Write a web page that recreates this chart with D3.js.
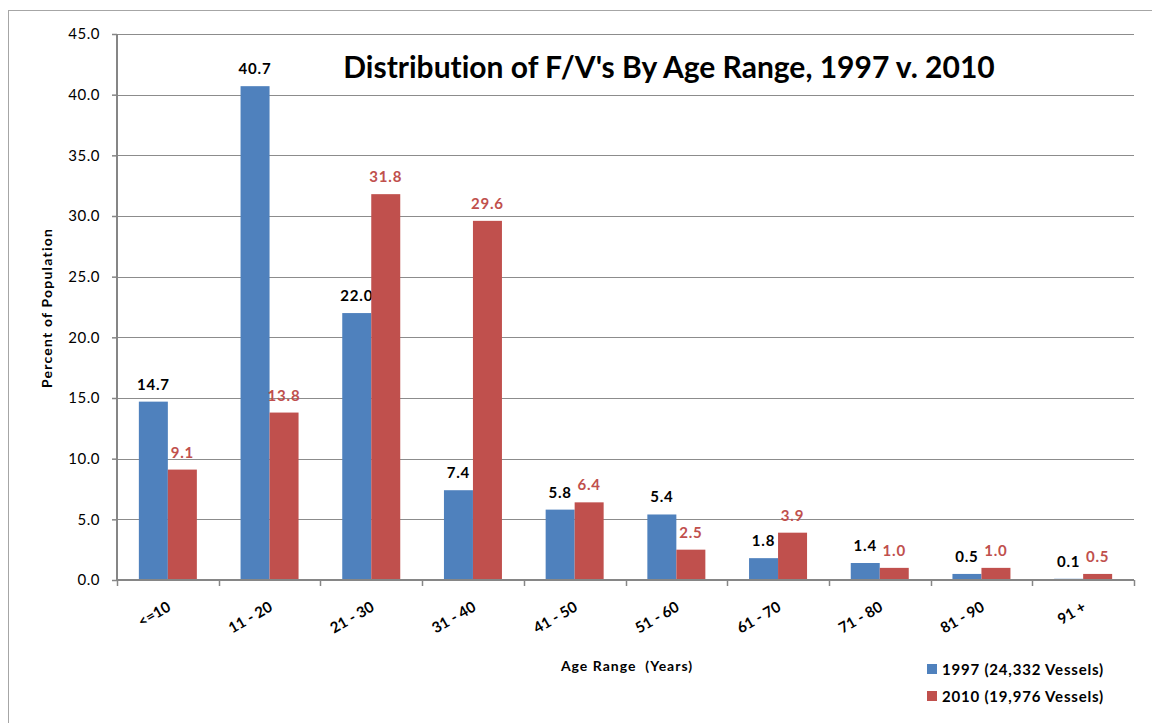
<!doctype html>
<html>
<head>
<meta charset="utf-8">
<script src="https://d3js.org/d3.v7.min.js"></script>
<style>
body { margin: 0; background: #fff; }
svg { font-family: Lato, "Open Sans", sans-serif; font-variant-ligatures: none; }
</style>
</head>
<body>
<svg width="1152" height="723"></svg>
<script>
// chart data
var categories = ["<=10", "11 - 20", "21 - 30", "31 - 40", "41 - 50", "51 - 60", "61 - 70", "71 - 80", "81 - 90", "91 +"];
var values1997 = [14.7, 40.7, 22.0, 7.4, 5.8, 5.4, 1.8, 1.4, 0.5, 0.1];
var values2010 = [9.1, 13.8, 31.8, 29.6, 6.4, 2.5, 3.9, 1.0, 1.0, 0.5];
var seriesNames = ["1997 (24,332 Vessels)", "2010 (19,976 Vessels)"];
var yTicks = [0, 5, 10, 15, 20, 25, 30, 35, 40, 45];

var colors = ["#4F81BD", "#C0504D"];
var labelColors = ["#000000", "#C0504D"];

var svg = d3.select("svg");

// outer chart frame
svg.append("rect")
    .attr("x", 8.5).attr("y", 10.5)
    .attr("width", 1160).attr("height", 730)
    .attr("fill", "none").attr("stroke", "#a6a6a6");

var plotLeft = 117, plotRight = 1134, plotTop = 34, plotBottom = 580;

var x = d3.scaleBand().domain(categories).range([plotLeft, plotRight]);
var y = d3.scaleLinear().domain([0, 45]).range([plotBottom, plotTop]);
var sub = d3.scaleBand().domain([0, 1]).range([0, 58]);
var groupOffset = (x.bandwidth() - 58) / 2;

// gridlines
svg.append("g").selectAll("line")
    .data(yTicks.filter(function(d) { return d > 0; }))
    .enter().append("line")
    .attr("x1", plotLeft).attr("x2", plotRight)
    .attr("y1", function(d) { return Math.round(y(d)) + 0.5; })
    .attr("y2", function(d) { return Math.round(y(d)) + 0.5; })
    .attr("stroke", "#8c8c8c").attr("stroke-width", 1);

// y axis
var yAxis = svg.append("g")
    .attr("transform", "translate(" + plotLeft + ",0)")
    .call(d3.axisLeft(y).tickValues(yTicks).tickSize(5).tickPadding(12).tickFormat(d3.format(".1f")));
yAxis.select(".domain").attr("stroke", "#868686").attr("stroke-width", 2).attr("d", "M0," + plotTop + "V" + plotBottom);
yAxis.selectAll(".tick line").attr("stroke", "#868686").attr("stroke-width", 1.5);
yAxis.selectAll(".tick text").attr("font-size", 15).attr("fill", "#000")
    .attr("font-family", "Lato, sans-serif").attr("letter-spacing", 0.5);

// bars
var series = [values1997, values2010];
series.forEach(function(vals, s) {
    var g = svg.append("g");
    g.selectAll("rect")
        .data(vals)
        .enter().append("rect")
        .attr("x", function(d, i) { return x(categories[i]) + groupOffset + sub(s); })
        .attr("y", function(d) { return y(d); })
        .attr("width", sub.bandwidth())
        .attr("height", function(d) { return plotBottom - y(d); })
        .attr("fill", colors[s]);
    g.selectAll("text")
        .data(vals)
        .enter().append("text")
        .attr("x", function(d, i) { return x(categories[i]) + groupOffset + sub(s) + sub.bandwidth() / 2; })
        .attr("y", function(d) { return y(d) - 12; })
        .attr("text-anchor", "middle")
        .attr("font-size", 15).attr("font-weight", "bold")
        .attr("letter-spacing", 0.8)
        .attr("fill", labelColors[s])
        .text(function(d) { return d.toFixed(1); });
});

// x axis
var xAxis = svg.append("g")
    .attr("transform", "translate(0," + plotBottom + ")");
xAxis.append("line")
    .attr("x1", plotLeft).attr("x2", plotRight)
    .attr("stroke", "#868686").attr("stroke-width", 2);
xAxis.selectAll(".tk")
    .data(categories.concat(["end"]))
    .enter().append("line")
    .attr("x1", function(d, i) { return Math.round(plotLeft + i * x.step()) + 0.5; })
    .attr("x2", function(d, i) { return Math.round(plotLeft + i * x.step()) + 0.5; })
    .attr("y1", 0).attr("y2", 6)
    .attr("stroke", "#868686").attr("stroke-width", 1.5);
xAxis.selectAll("text")
    .data(categories)
    .enter().append("text")
    .attr("transform", function(d) {
        return "translate(" + (x(d) + x.bandwidth() / 2 + 4) + ",30) rotate(-30)";
    })
    .attr("text-anchor", "end")
    .attr("font-size", 15).attr("font-weight", "bold")
    .text(function(d) { return d; });

// title
svg.append("text")
    .attr("x", 669).attr("y", 78)
    .attr("text-anchor", "middle")
    .attr("font-size", 30).attr("font-weight", "bold")
    .text("Distribution of F/V's By Age Range, 1997 v. 2010");

// axis titles
svg.append("text")
    .attr("x", 627).attr("y", 671)
    .attr("text-anchor", "middle")
    .attr("font-size", 14).attr("font-weight", "bold")
    .attr("letter-spacing", 1)
    .attr("xml:space", "preserve")
    .text("Age Range  (Years)");

svg.append("text")
    .attr("transform", "translate(52,308) rotate(-90)")
    .attr("text-anchor", "middle")
    .attr("font-size", 14).attr("font-weight", "bold")
    .attr("letter-spacing", 1.2)
    .text("Percent of Population");

// legend
var legend = svg.append("g").attr("transform", "translate(927,664)");
seriesNames.forEach(function(name, i) {
    legend.append("rect")
        .attr("x", 0).attr("y", i * 27)
        .attr("width", 10).attr("height", 10)
        .attr("fill", colors[i]);
    legend.append("text")
        .attr("x", 15).attr("y", i * 27 + 11)
        .attr("font-size", 15).attr("font-weight", "bold")
        .attr("letter-spacing", 0.8)
        .text(name);
});
</script>
</body>
</html>
